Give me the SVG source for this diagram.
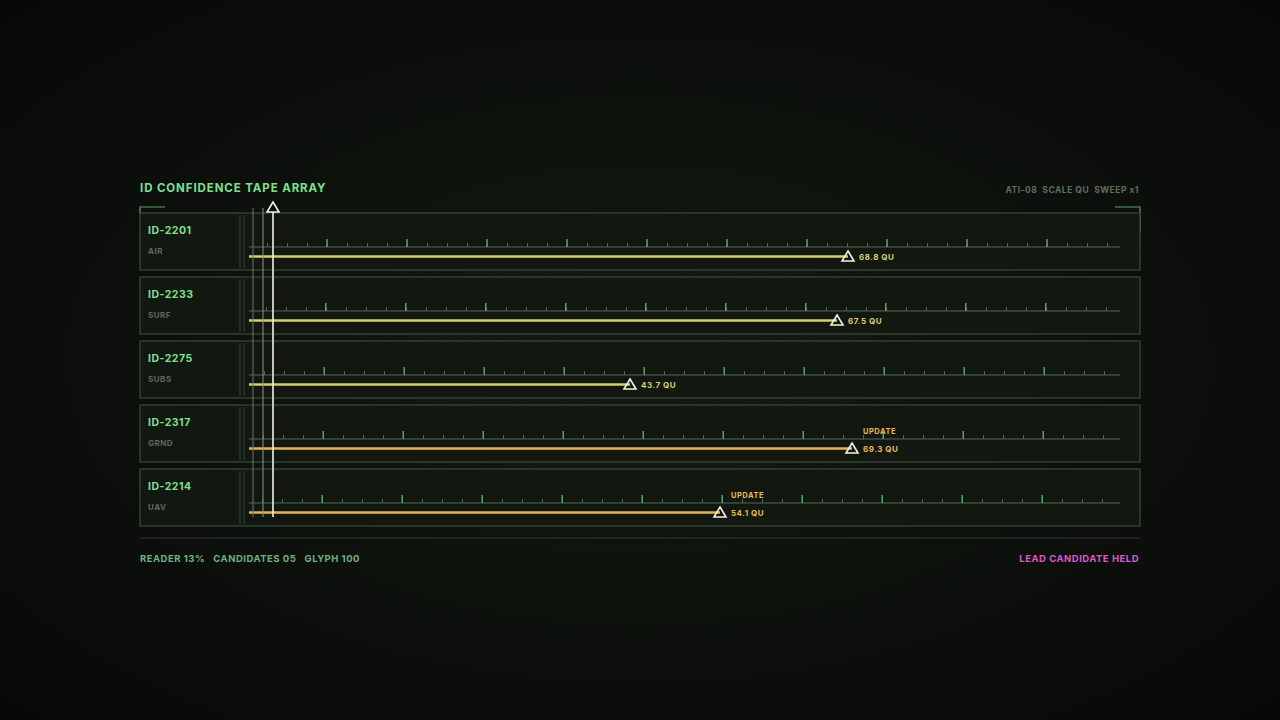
<svg xmlns="http://www.w3.org/2000/svg" width="1280" height="720" viewBox="0 0 1280 720">
<defs>
<radialGradient id="bg" cx="50%" cy="50%" r="70%">
<stop offset="0" stop-color="#141a12"/><stop offset="1" stop-color="#070907"/>
</radialGradient>
<style>
text{font-family:"Inter","Liberation Sans",sans-serif;font-weight:700;letter-spacing:0.5px;white-space:pre}
.row{fill:#121810;stroke:#3c4a3c;stroke-width:1.2}
.id{fill:#7ee08e;font-size:10.5px}
.cls{fill:#5f6a5f;font-size:8px}
.base{stroke:#4e6a56;stroke-width:1}
.minor{stroke:#4e6a56;stroke-width:4;stroke-dasharray:1 19}
.major{stroke:#5aa070;stroke-width:8;stroke-dasharray:1.5 78.5}
.bar{stroke:#d6cf72;stroke-width:2.5}
.bar2{stroke:#e3b955;stroke-width:2.5}
.tri{fill:none;stroke:#f2f2ea;stroke-width:1.6;stroke-linejoin:miter}
.val{fill:#d8cf70;font-size:8px}
.val2{fill:#e6b855;font-size:8px}
.upd{fill:#e6b855;font-size:7.5px}
.sep{stroke:#3a463a;stroke-width:1}
</style>
</defs>
<rect width="1280" height="720" fill="url(#bg)"/>
<text x="140" y="192" fill="#7ee08e" font-size="11.5" style="letter-spacing:0.9px">ID CONFIDENCE TAPE ARRAY</text>
<text x="1139" y="193" fill="#5f6e5f" font-size="8.5" text-anchor="end" xml:space="preserve">ATI-08  SCALE QU  SWEEP x1</text>
<path d="M140 214V207H165" fill="none" stroke="#5aa070" stroke-width="1.2"/>
<path d="M1115 207H1140V232" fill="none" stroke="#5aa070" stroke-width="1.2"/>

<g id="row1">
<rect class="row" x="140" y="213" width="1000" height="57"/>
<line class="sep" x1="240" y1="215" x2="240" y2="268"/><line class="sep" x1="244" y1="215" x2="244" y2="268"/>
<text class="id" x="148" y="234">ID-2201</text><text class="cls" x="148" y="254">AIR</text>
<line class="base" x1="249" y1="247" x2="1120" y2="247"/>
<line class="minor" x1="267" y1="245" x2="1110" y2="245"/>
<line class="major" x1="326.25" y1="243" x2="1110" y2="243"/>
<line class="bar" x1="249" y1="256.5" x2="848" y2="256.5"/>
<path class="tri" d="M848 251L854 261H842Z"/>
<text class="val" x="859" y="259.5">68.8 QU</text>
</g>
<g id="row2">
<rect class="row" x="140" y="277" width="1000" height="57"/>
<line class="sep" x1="240" y1="279" x2="240" y2="332"/><line class="sep" x1="244" y1="279" x2="244" y2="332"/>
<text class="id" x="148" y="298">ID-2233</text><text class="cls" x="148" y="318">SURF</text>
<line class="base" x1="249" y1="311" x2="1120" y2="311"/>
<line class="minor" x1="266" y1="309" x2="1110" y2="309"/>
<line class="major" x1="325" y1="307" x2="1110" y2="307"/>
<line class="bar" x1="249" y1="320.5" x2="837" y2="320.5"/>
<path class="tri" d="M837 315L843 325H831Z"/>
<text class="val" x="848" y="323.5">67.5 QU</text>
</g>
<g id="row3">
<rect class="row" x="140" y="341" width="1000" height="57"/>
<line class="sep" x1="240" y1="343" x2="240" y2="396"/><line class="sep" x1="244" y1="343" x2="244" y2="396"/>
<text class="id" x="148" y="362">ID-2275</text><text class="cls" x="148" y="382">SUBS</text>
<line class="base" x1="249" y1="375" x2="1120" y2="375"/>
<line class="minor" x1="264" y1="373" x2="1110" y2="373"/>
<line class="major" x1="323.5" y1="371" x2="1110" y2="371"/>
<line class="bar" x1="249" y1="384.5" x2="630" y2="384.5"/>
<path class="tri" d="M630 379L636 389H624Z"/>
<text class="val" x="641" y="387.5">43.7 QU</text>
</g>
<g id="row4">
<rect class="row" x="140" y="405" width="1000" height="57"/>
<line class="sep" x1="240" y1="407" x2="240" y2="460"/><line class="sep" x1="244" y1="407" x2="244" y2="460"/>
<text class="id" x="148" y="426">ID-2317</text><text class="cls" x="148" y="446">GRND</text>
<line class="base" x1="249" y1="439" x2="1120" y2="439"/>
<line class="minor" x1="263" y1="437" x2="1110" y2="437"/>
<line class="major" x1="322.5" y1="435" x2="1110" y2="435"/>
<line class="bar2" x1="249" y1="448.5" x2="852" y2="448.5"/>
<path class="tri" d="M852 443L858 453H846Z"/>
<text class="val2" x="863" y="451.5">69.3 QU</text>
<text class="upd" x="863" y="433.5">UPDATE</text>
</g>
<g id="row5">
<rect class="row" x="140" y="469" width="1000" height="57"/>
<line class="sep" x1="240" y1="471" x2="240" y2="524"/><line class="sep" x1="244" y1="471" x2="244" y2="524"/>
<text class="id" x="148" y="490">ID-2214</text><text class="cls" x="148" y="510">UAV</text>
<line class="base" x1="249" y1="503" x2="1120" y2="503"/>
<line class="minor" x1="262" y1="501" x2="1110" y2="501"/>
<line class="major" x1="321.5" y1="499" x2="1110" y2="499"/>
<line class="bar2" x1="249" y1="512.5" x2="720" y2="512.5"/>
<path class="tri" d="M720 507L726 517H714Z"/>
<text class="val2" x="731" y="515.5">54.1 QU</text>
<text class="upd" x="731" y="497.5">UPDATE</text>
</g>
<g id="cursor">
<line x1="253" y1="208" x2="253" y2="517" stroke="#6a746a" stroke-width="1"/>
<line x1="263" y1="208" x2="263" y2="517" stroke="#8a948a" stroke-width="1"/>
<line x1="273" y1="212" x2="273" y2="517" stroke="#f2f2ea" stroke-width="1.6"/>
<path class="tri" d="M273 202L279 212H267Z"/>
</g>
<line x1="140" y1="538" x2="1140" y2="538" stroke="#2e382e" stroke-width="1"/>
<text x="140" y="562" fill="#6fb07e" font-size="9.5" xml:space="preserve">READER 13%   CANDIDATES 05   GLYPH 100</text>
<text x="1139" y="562" fill="#d85ac8" font-size="9.5" text-anchor="end">LEAD CANDIDATE HELD</text>
</svg>
